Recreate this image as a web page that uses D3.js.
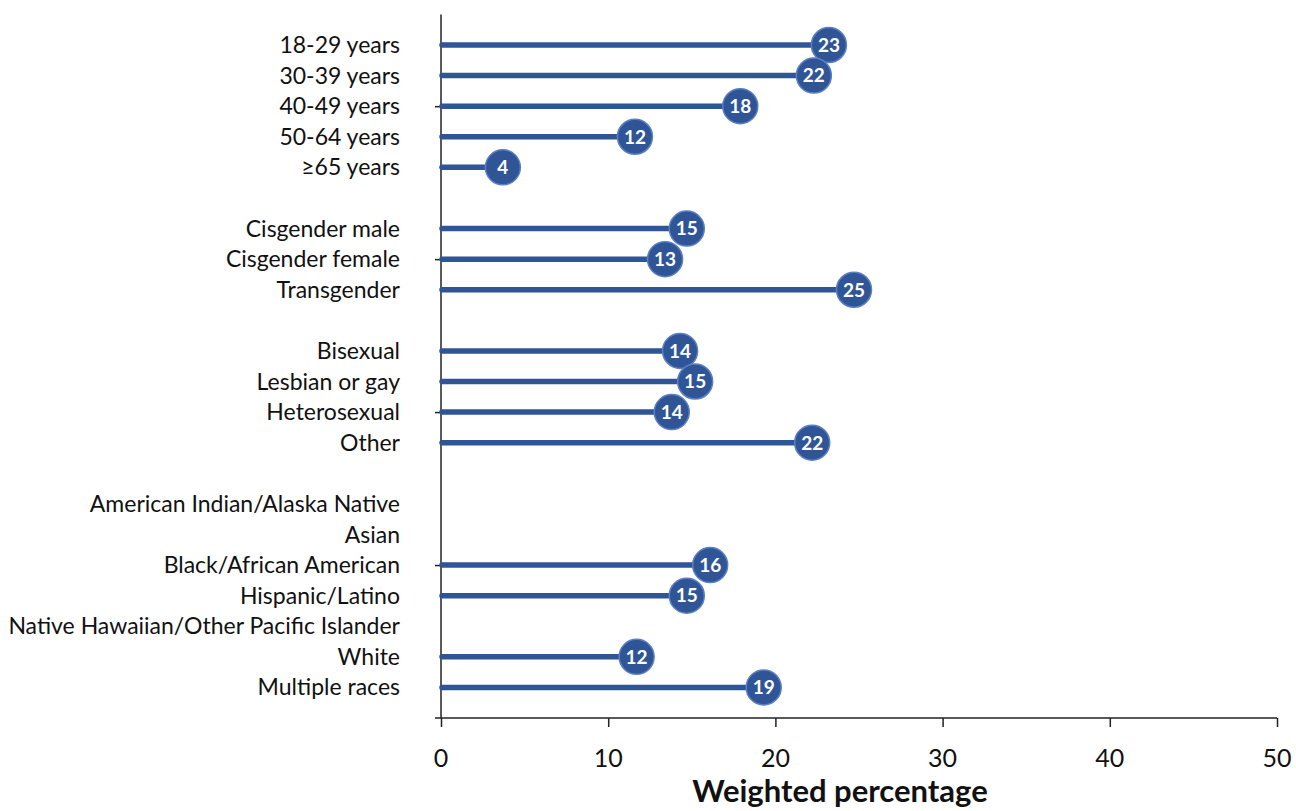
<!DOCTYPE html>
<html>
<head>
<meta charset="utf-8">
<script src="https://cdn.jsdelivr.net/npm/d3@7"></script>
<style>
  body { margin: 0; background: #fff; }
  svg { display: block; font-family: Lato, "Open Sans", sans-serif; }
  .cat-label { font-size: 23px; fill: #111; }
  .tick-label { font-size: 25px; fill: #111; }
  .value-label { font-size: 19px; font-weight: bold; fill: #fff; }
  .axis-title { font-size: 31px; font-weight: bold; fill: #111; }
</style>
</head>
<body>
<div id="chart"></div>
<script>
// Row labels, top to bottom ("" = spacer row between groups)
const categories = [
    "18-29 years", "30-39 years", "40-49 years", "50-64 years", "\u226565 years",
    "",
    "Cisgender male", "Cisgender female", "Transgender",
    "",
    "Bisexual", "Lesbian or gay", "Heterosexual", "Other",
    "",
    "American Indian/Alaska Native", "Asian", "Black/African American", "Hispanic/Latino",
    "Native Hawaiian/Other Pacific Islander", "White", "Multiple races"
];

// Weighted percentage per row (null = not shown)
const values = [
    23.2, 22.3, 17.9, 11.6, 3.7,
    null,
    14.7, 13.4, 24.7,
    null,
    14.3, 15.2, 13.8, 22.2,
    null,
    null, null, 16.1, 14.7,
    null, 11.7, 19.3
];

const xTicks = [0, 10, 20, 30, 40, 50];
const xAxisLabel = "Weighted percentage";

// Setting the size of the SVG area
const width = 1296, height = 811;
const plot = { left: 441, right: 1277, top: 14.4, bottom: 718 };

const svg = d3.select("#chart")
    .append("svg")
    .attr("width", width)
    .attr("height", height);

// Scales: x is percentage, y is a linear row position (0..23, rows at 1..22)
const x = d3.scaleLinear().domain([0, 50]).range([plot.left, plot.right]);
const y = d3.scaleLinear().domain([0, categories.length + 1]).range([plot.bottom, plot.top]);
const rowY = i => y(categories.length - i);

// X axis
const xAxis = d3.axisBottom(x).tickValues(xTicks).tickSize(9).tickSizeOuter(0).tickFormat("");
const gx = svg.append("g")
    .attr("transform", "translate(0," + plot.bottom + ")")
    .call(xAxis);
gx.select(".domain").remove();
gx.selectAll(".tick line").attr("stroke", "#222").attr("stroke-width", 1.5);
gx.append("line")
    .attr("x1", plot.left - 6).attr("x2", plot.right)
    .attr("stroke", "#222").attr("stroke-width", 1.5);

svg.selectAll(".tick-label")
    .data(xTicks)
    .enter().append("text")
    .attr("class", "tick-label")
    .attr("x", d => x(d))
    .attr("y", plot.bottom + 49)
    .attr("text-anchor", "middle")
    .text(d => d);

// Y axis (ticks every 5 units, no labels)
const yAxis = d3.axisLeft(y).tickValues([5, 10, 15, 20]).tickSize(6).tickSizeOuter(0).tickFormat("");
const gy = svg.append("g")
    .attr("transform", "translate(" + plot.left + ",0)")
    .call(yAxis);
gy.select(".domain").remove();
gy.selectAll(".tick line").attr("stroke", "#222").attr("stroke-width", 1.5);
gy.append("line")
    .attr("y1", plot.top).attr("y2", plot.bottom)
    .attr("stroke", "#222").attr("stroke-width", 1.5);

// Category labels
svg.selectAll(".cat-label")
    .data(categories)
    .enter().append("text")
    .attr("class", "cat-label")
    .attr("x", 400)
    .attr("y", (d, i) => rowY(i))
    .attr("dy", "0.35em")
    .attr("text-anchor", "end")
    .text(d => d);

// Lollipops
const rows = values.map((v, i) => ({ v: v, i: i })).filter(d => d.v !== null);

svg.selectAll(".stem")
    .data(rows)
    .enter().append("line")
    .attr("class", "stem")
    .attr("x1", x(0) + 1)
    .attr("x2", d => x(d.v))
    .attr("y1", d => rowY(d.i))
    .attr("y2", d => rowY(d.i))
    .attr("stroke", "#2f5597")
    .attr("stroke-width", 5.5)
    .attr("stroke-linecap", "round");

svg.selectAll(".dot")
    .data(rows)
    .enter().append("circle")
    .attr("class", "dot")
    .attr("cx", d => x(d.v))
    .attr("cy", d => rowY(d.i))
    .attr("r", 17.5)
    .attr("fill", "#2f5597")
    .attr("stroke", "#5b7fc4")
    .attr("stroke-width", 1.5);

svg.selectAll(".value-label")
    .data(rows)
    .enter().append("text")
    .attr("class", "value-label")
    .attr("x", d => x(d.v))
    .attr("y", d => rowY(d.i))
    .attr("dy", "0.36em")
    .attr("text-anchor", "middle")
    .text(d => Math.round(d.v));

// Axis title
svg.append("text")
    .attr("class", "axis-title")
    .attr("x", 840)
    .attr("y", 802)
    .attr("text-anchor", "middle")
    .text(xAxisLabel);
</script>
</body>
</html>
